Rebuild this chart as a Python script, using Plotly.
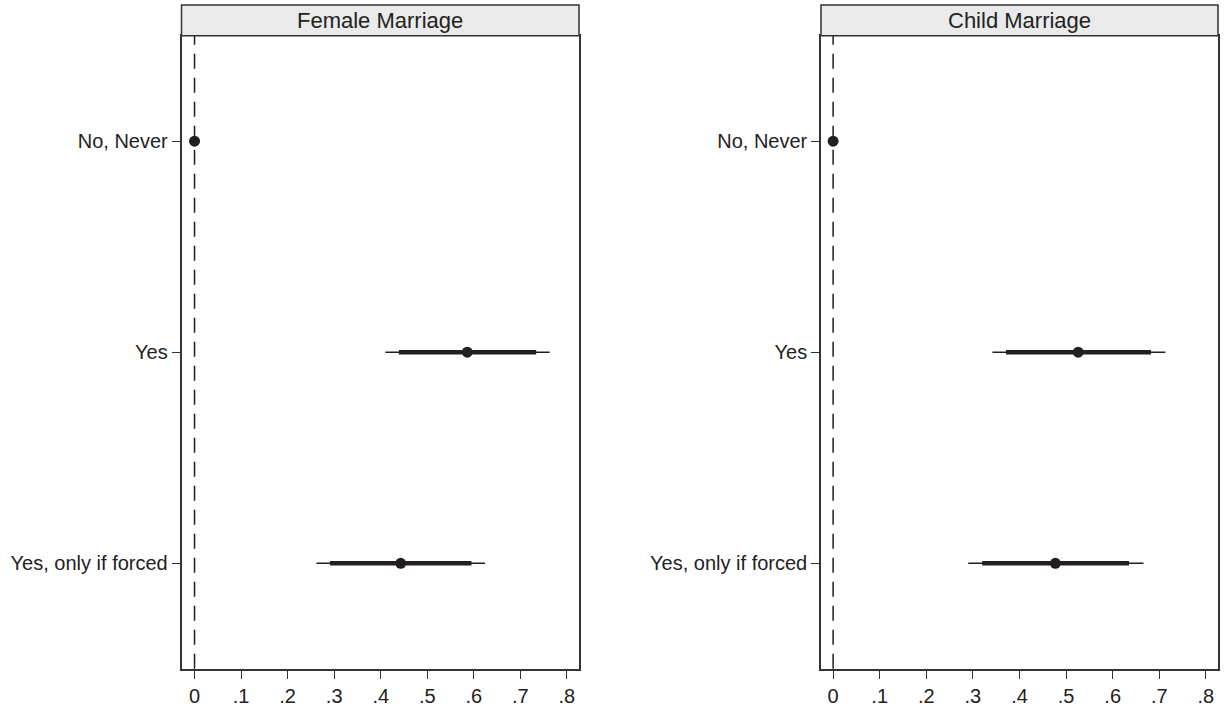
import plotly.graph_objects as go

# ---------------- data ----------------
categories = ["No, Never", "Yes", "Yes, only if forced"]
panel_titles = ["Female Marriage", "Child Marriage"]

female_coef = [0.0, 0.586, 0.443]
female_ci95_lo = [None, 0.410, 0.262]
female_ci95_hi = [None, 0.763, 0.624]
female_ci90_lo = [None, 0.439, 0.291]
female_ci90_hi = [None, 0.734, 0.595]

child_coef = [0.0, 0.526, 0.477]
child_ci95_lo = [None, 0.342, 0.290]
child_ci95_hi = [None, 0.713, 0.666]
child_ci90_lo = [None, 0.371, 0.320]
child_ci90_hi = [None, 0.682, 0.635]

x_tickvals = [0, 0.1, 0.2, 0.3, 0.4, 0.5, 0.6, 0.7, 0.8]
x_ticktext = ["0", ".1", ".2", ".3", ".4", ".5", ".6", ".7", ".8"]

# ---------------- style ----------------
INK = "#231f20"
FRAME = "#333333"
FONT = "Liberation Sans, Arial, sans-serif"
W, H = 1228, 707

fig = go.Figure()

panels = [
    (female_coef, female_ci95_lo, female_ci95_hi, female_ci90_lo, female_ci90_hi, "x", "y"),
    (child_coef, child_ci95_lo, child_ci95_hi, child_ci90_lo, child_ci90_hi, "x2", "y2"),
]


def plus(hi, c):
    return [0 if h is None else h - v for h, v in zip(hi, c)]


def minus(lo, c):
    return [0 if l is None else v - l for l, v in zip(lo, c)]


for coef, lo95, hi95, lo90, hi90, xa, ya in panels:
    # 95% CI (thin)
    fig.add_trace(go.Scatter(
        x=coef, y=categories, xaxis=xa, yaxis=ya, mode="markers",
        marker=dict(size=1, color="rgba(0,0,0,0)"),
        error_x=dict(type="data", symmetric=False,
                     array=plus(hi95, coef), arrayminus=minus(lo95, coef),
                     thickness=1.6, width=0, color=INK),
        showlegend=False, hoverinfo="skip"))
    # 90% CI (thick) + point estimate
    fig.add_trace(go.Scatter(
        x=coef, y=categories, xaxis=xa, yaxis=ya, mode="markers",
        marker=dict(size=11, color=INK),
        error_x=dict(type="data", symmetric=False,
                     array=plus(hi90, coef), arrayminus=minus(lo90, coef),
                     thickness=4.5, width=0, color=INK),
        showlegend=False))

# plot-area geometry (pixels -> paper)
left_px = [(181.5, 579.0), (821.0, 1218.0)]
top_px, bottom_px, strip_top_px = 36.0, 674.5, 5.0
ydom = [1 - bottom_px / H, 1 - top_px / H]
xranges = [[-0.028, 0.826], [-0.026, 0.826]]

axis_common = dict(
    showgrid=False, zeroline=False, showline=True, linecolor=FRAME, linewidth=1.5,
    mirror=True, ticks="outside", ticklen=8, tickwidth=1.2, tickcolor=FRAME,
    tickfont=dict(family=FONT, size=20, color="#222222"),
)

layout_axes = {}
for i, (x0, x1) in enumerate(left_px):
    suffix = "" if i == 0 else "2"
    layout_axes["xaxis" + suffix] = dict(
        axis_common, domain=[x0 / W, x1 / W], range=xranges[i],
        tickvals=x_tickvals, ticktext=x_ticktext,
        anchor="y" + suffix)
    layout_axes["yaxis" + suffix] = dict(
        axis_common, domain=ydom, type="category",
        categoryorder="array", categoryarray=categories,
        range=[2.5, -0.5], anchor="x" + suffix)

shapes = []
annotations = []
for i, (x0, x1) in enumerate(left_px):
    suffix = "" if i == 0 else "2"
    # dashed reference line at zero
    shapes.append(dict(type="line", xref="x" + suffix, yref="y" + suffix + " domain",
                       x0=0, x1=0, y0=0, y1=1,
                       line=dict(color=INK, width=1.5, dash="15px,9px")))
    # title strip
    shapes.append(dict(type="rect", xref="paper", yref="paper",
                       x0=x0 / W, x1=x1 / W, y0=1 - top_px / H, y1=1 - strip_top_px / H,
                       fillcolor="#eaeaea", line=dict(color=FRAME, width=1.5)))
    annotations.append(dict(
        text=panel_titles[i], xref="paper", yref="paper",
        x=(x0 + x1) / 2 / W, y=1 - (top_px + strip_top_px) / 2 / H,
        xanchor="center", yanchor="middle", showarrow=False,
        font=dict(family=FONT, size=22, color="#222222")))

fig.update_layout(
    width=W, height=H,
    margin=dict(l=0, r=0, t=0, b=0),
    paper_bgcolor="white", plot_bgcolor="white",
    shapes=shapes, annotations=annotations,
    **layout_axes,
)

fig.write_html(
    "out.html",
    config={"displayModeBar": False},
    post_script="document.body.style.margin='0';document.body.style.overflow='hidden';",
)
